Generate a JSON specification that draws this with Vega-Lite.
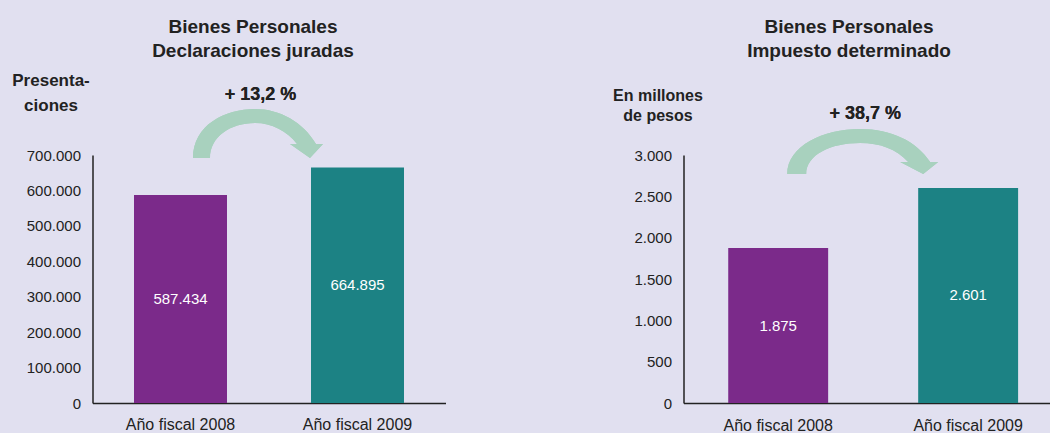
{
  "$schema": "https://vega.github.io/schema/vega-lite/v6.json",
  "background": "#e1e0f0",
  "padding": {"left": 11.5, "top": 18, "right": 0, "bottom": 0},
  "bounds": "flush",
  "spacing": 238,
  "config": {
    "locale": {"number": {"decimal": ",", "thousands": ".", "grouping": [3], "currency": ["$", ""]}},
    "view": {"stroke": null},
    "font": "Liberation Sans",
    "axis": {
      "domain": true, "domainColor": "#222222", "domainWidth": 1.5,
      "ticks": false, "grid": false,
      "labelFont": "Liberation Sans", "labelColor": "#222222",
      "titleFont": "Liberation Sans", "titleColor": "#222222"
    },
    "title": {"font": "Liberation Sans", "color": "#222222", "fontSize": 19, "fontWeight": "bold", "lineHeight": 24}
  },
  "hconcat": [
    {
      "width": 353, "height": 248,
      "title": {"text": ["Bienes Personales", "Declaraciones juradas"], "frame": "group", "anchor": "middle", "dx": -16, "offset": 10},
      "data": {"values": [
        {"anio": "Año fiscal 2008", "valor": 587434},
        {"anio": "Año fiscal 2009", "valor": 664895}
      ]},
      "encoding": {
        "x": {"field": "anio", "type": "nominal", "sort": null,
          "scale": {"paddingInner": 0.4746, "paddingOuter": 0.2345, "align": 0.5},
          "axis": {"title": null, "labelAngle": 0, "labelFontSize": 16, "labelPadding": 13}}
      },
      "resolve": {"scale": {"y": "independent"}},
      "layer": [
        {
          "mark": {"type": "bar"},
          "encoding": {
            "y": {"field": "valor", "type": "quantitative",
              "scale": {"domain": [0, 700000], "nice": false},
              "axis": {"values": [0, 100000, 200000, 300000, 400000, 500000, 600000, 700000], "format": ",d",
                "labelFontSize": 15, "labelPadding": 12,
                "title": ["Presenta-", "ciones"], "titleAngle": 0, "titleAlign": "center", "titleBaseline": "alphabetic",
                "titleX": -42, "titleY": -70, "titleFontSize": 17, "titleFontWeight": "bold", "titleLineHeight": 25}},
            "color": {"field": "anio", "type": "nominal", "sort": null, "scale": {"range": ["#7b2a8a", "#1c8284"]}, "legend": null}
          }
        },
        {
          "mark": {"type": "text", "color": "#ffffff", "fontSize": 15, "baseline": "middle", "align": "center"},
          "encoding": {
            "y": {"field": "valor", "type": "quantitative", "scale": {"domain": [0, 1400000], "nice": false}, "axis": null},
            "text": {"field": "valor", "type": "quantitative", "format": ",d"}
          }
        },
        {
          "mark": {"type": "point", "filled": true, "color": "#a8d1be", "opacity": 1, "size": 4,
            "shape": "M12.5,0 C12.5,-33 44.5,-49 74.5,-49 C99.5,-49 122.5,-36 135.5,-14 L142.5,-14 L129.5,0 L109.5,-14 L116.5,-14 C106.5,-27 91.5,-35 74.5,-35 C49.5,-35 29.5,-21 29.5,0 Z"},
          "encoding": {
            "x": {"datum": "Año fiscal 2008"},
            "y": {"datum": 691500, "type": "quantitative", "scale": {"domain": [0, 700000], "nice": false}, "axis": null}
          }
        },
        {
          "mark": {"type": "text", "color": "#222222", "fontSize": 18, "fontWeight": "bold", "baseline": "middle", "align": "center", "dx": 80},
          "encoding": {
            "x": {"datum": "Año fiscal 2008"},
            "y": {"datum": 869400, "type": "quantitative", "scale": {"domain": [0, 700000], "nice": false}, "axis": null},
            "text": {"value": "+ 13,2 %"}
          }
        }
      ]
    },
    {
      "width": 367, "height": 248,
      "title": {"text": ["Bienes Personales", "Impuesto determinado"], "frame": "group", "anchor": "middle", "dx": -18, "offset": 26},
      "data": {"values": [
        {"anio": "Año fiscal 2008", "valor": 1875},
        {"anio": "Año fiscal 2009", "valor": 2601}
      ]},
      "encoding": {
        "x": {"field": "anio", "type": "nominal", "sort": null,
          "scale": {"paddingInner": 0.474, "paddingOuter": 0.203, "align": 0.58},
          "axis": {"title": null, "labelAngle": 0, "labelFontSize": 16, "labelPadding": 14}}
      },
      "resolve": {"scale": {"y": "independent"}},
      "layer": [
        {
          "mark": {"type": "bar"},
          "encoding": {
            "y": {"field": "valor", "type": "quantitative",
              "scale": {"domain": [0, 3000], "nice": false},
              "axis": {"values": [0, 500, 1000, 1500, 2000, 2500, 3000], "format": ",d",
                "labelFontSize": 15, "labelPadding": 12,
                "title": ["En millones", "de pesos"], "titleAngle": 0, "titleAlign": "center", "titleBaseline": "alphabetic",
                "titleX": -26, "titleY": -55, "titleFontSize": 16, "titleFontWeight": "bold", "titleLineHeight": 20}},
            "color": {"field": "anio", "type": "nominal", "sort": null, "scale": {"range": ["#7b2a8a", "#1c8284"]}, "legend": null}
          }
        },
        {
          "mark": {"type": "text", "color": "#ffffff", "fontSize": 15, "baseline": "middle", "align": "center"},
          "encoding": {
            "y": {"field": "valor", "type": "quantitative", "scale": {"domain": [0, 6000], "nice": false}, "axis": null},
            "text": {"field": "valor", "type": "quantitative", "format": ",d"}
          }
        },
        {
          "mark": {"type": "point", "filled": true, "color": "#a8d1be", "opacity": 1, "size": 4,
            "shape": "M9,0 C9,-28 45,-45 82,-45 C113,-45 138,-33 152,-12 L160,-12 L145,0 L122,-12 L130,-12 C118,-25 102,-31 82,-31 C52,-31 28,-19 28,0 Z"},
          "encoding": {
            "x": {"datum": "Año fiscal 2008"},
            "y": {"datum": 2770, "type": "quantitative", "scale": {"domain": [0, 3000], "nice": false}, "axis": null}
          }
        },
        {
          "mark": {"type": "text", "color": "#222222", "fontSize": 18, "fontWeight": "bold", "baseline": "middle", "align": "center", "dx": 87},
          "encoding": {
            "x": {"datum": "Año fiscal 2008"},
            "y": {"datum": 3496, "type": "quantitative", "scale": {"domain": [0, 3000], "nice": false}, "axis": null},
            "text": {"value": "+ 38,7 %"}
          }
        }
      ]
    }
  ]
}
